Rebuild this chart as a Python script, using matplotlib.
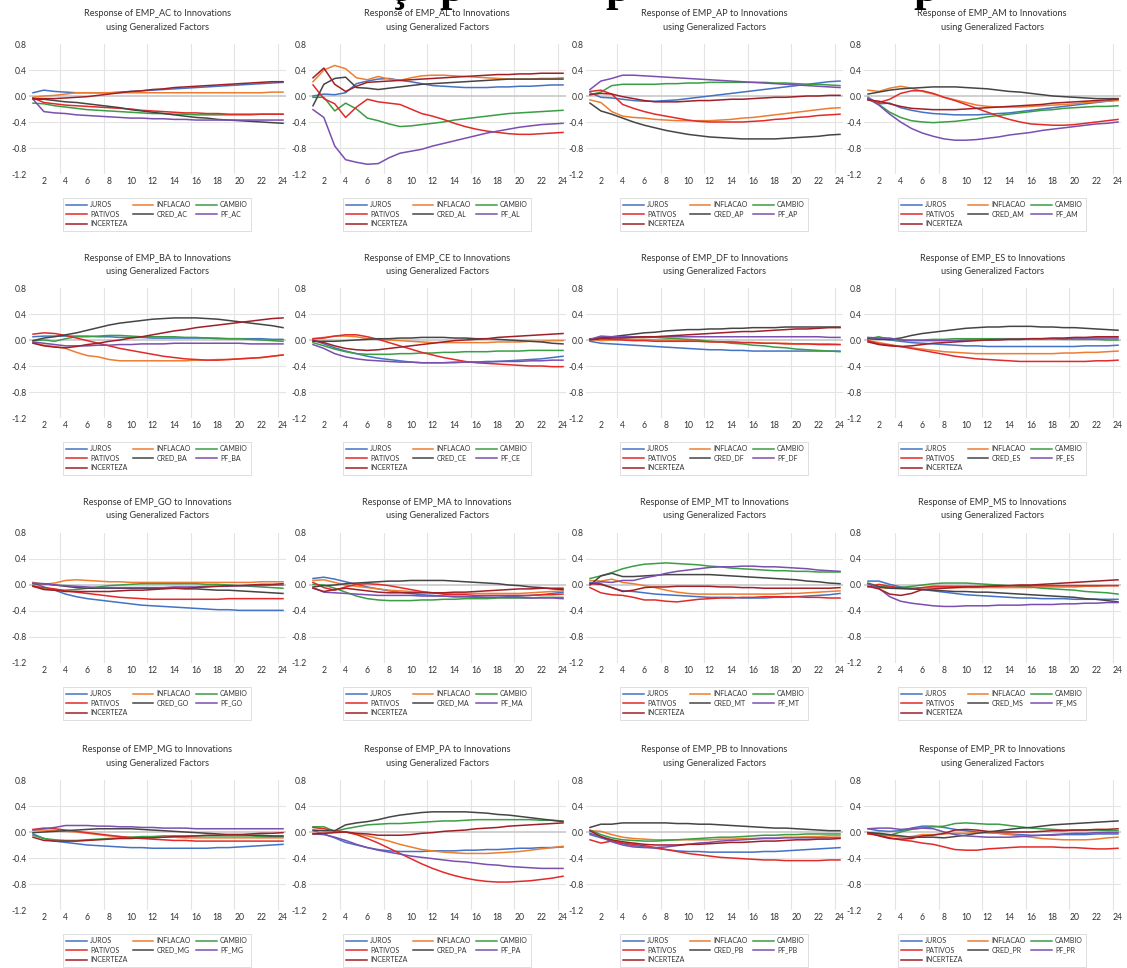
import matplotlib
matplotlib.use("Agg")
import matplotlib.pyplot as plt
from matplotlib.transforms import offset_copy

# ---------------- data ----------------
PERIODS = list(range(1, 25))
STATES = ["AC", "AL", "AP", "AM", "BA", "CE", "DF", "ES",
          "GO", "MA", "MT", "MS", "MG", "PA", "PB", "PR"]
SERIES = ["JUROS", "INFLACAO", "CAMBIO", "PATIVOS", "CRED", "PF", "INCERTEZA"]
Y_TICKS = [0.8, 0.4, 0.0, -0.4, -0.8, -1.2]
X_TICKS = [2, 4, 6, 8, 10, 12, 14, 16, 18, 20, 22, 24]

EMP_AC = {
    "JUROS":     [0.05, 0.09, 0.07, 0.06, 0.05, 0.05, 0.05, 0.05, 0.06, 0.07, 0.08, 0.09, 0.10, 0.11, 0.12, 0.13, 0.14, 0.15, 0.16, 0.17, 0.18, 0.19, 0.20, 0.21],
    "INFLACAO":  [-0.02, 0.00, 0.01, 0.03, 0.05, 0.05, 0.05, 0.05, 0.05, 0.05, 0.05, 0.05, 0.05, 0.05, 0.05, 0.05, 0.05, 0.05, 0.05, 0.05, 0.05, 0.05, 0.06, 0.06],
    "CAMBIO":    [-0.11, -0.12, -0.15, -0.17, -0.19, -0.21, -0.22, -0.23, -0.24, -0.25, -0.26, -0.27, -0.27, -0.28, -0.28, -0.29, -0.29, -0.29, -0.29, -0.29, -0.29, -0.28, -0.28, -0.28],
    "PATIVOS":   [-0.03, -0.10, -0.12, -0.14, -0.15, -0.16, -0.17, -0.18, -0.19, -0.20, -0.22, -0.23, -0.24, -0.25, -0.26, -0.26, -0.27, -0.27, -0.28, -0.28, -0.28, -0.28, -0.28, -0.28],
    "CRED":      [-0.05, -0.05, -0.07, -0.09, -0.10, -0.12, -0.14, -0.16, -0.18, -0.21, -0.23, -0.25, -0.27, -0.29, -0.31, -0.33, -0.34, -0.36, -0.37, -0.38, -0.39, -0.40, -0.41, -0.42],
    "PF":        [-0.05, -0.24, -0.26, -0.27, -0.29, -0.30, -0.31, -0.32, -0.33, -0.34, -0.34, -0.35, -0.35, -0.36, -0.36, -0.37, -0.37, -0.37, -0.37, -0.37, -0.37, -0.37, -0.37, -0.37],
    "INCERTEZA": [-0.04, -0.04, -0.04, -0.03, -0.02, -0.01, 0.01, 0.03, 0.05, 0.07, 0.08, 0.10, 0.11, 0.13, 0.14, 0.15, 0.16, 0.17, 0.18, 0.19, 0.20, 0.21, 0.22, 0.22],
}
EMP_AL = {
    "JUROS":     [0.00, 0.03, 0.02, 0.05, 0.19, 0.23, 0.26, 0.27, 0.24, 0.22, 0.19, 0.16, 0.15, 0.14, 0.13, 0.13, 0.13, 0.14, 0.14, 0.15, 0.15, 0.16, 0.17, 0.17],
    "INFLACAO":  [0.22, 0.40, 0.47, 0.42, 0.28, 0.25, 0.30, 0.26, 0.24, 0.28, 0.31, 0.32, 0.32, 0.31, 0.30, 0.29, 0.28, 0.27, 0.26, 0.26, 0.26, 0.27, 0.27, 0.28],
    "CAMBIO":    [-0.02, -0.02, -0.23, -0.11, -0.20, -0.34, -0.38, -0.43, -0.47, -0.46, -0.44, -0.42, -0.40, -0.37, -0.35, -0.33, -0.31, -0.29, -0.27, -0.26, -0.25, -0.24, -0.23, -0.22],
    "PATIVOS":   [0.17, -0.04, -0.12, -0.33, -0.17, -0.05, -0.09, -0.11, -0.13, -0.20, -0.27, -0.31, -0.36, -0.42, -0.47, -0.51, -0.54, -0.56, -0.58, -0.59, -0.59, -0.58, -0.57, -0.56],
    "CRED":      [-0.15, 0.18, 0.27, 0.29, 0.13, 0.12, 0.10, 0.12, 0.14, 0.16, 0.18, 0.19, 0.20, 0.21, 0.22, 0.23, 0.24, 0.25, 0.26, 0.26, 0.26, 0.26, 0.26, 0.26],
    "PF":        [-0.21, -0.33, -0.77, -0.98, -1.02, -1.05, -1.04, -0.95, -0.88, -0.85, -0.82, -0.77, -0.73, -0.69, -0.65, -0.61, -0.57, -0.54, -0.51, -0.48, -0.46, -0.44, -0.43, -0.42],
    "INCERTEZA": [0.28, 0.43, 0.18, 0.07, 0.15, 0.21, 0.22, 0.23, 0.24, 0.25, 0.26, 0.27, 0.28, 0.29, 0.30, 0.31, 0.32, 0.33, 0.33, 0.34, 0.34, 0.35, 0.35, 0.35],
}
EMP_AP = {
    "JUROS":     [0.05, -0.02, -0.03, -0.05, -0.07, -0.08, -0.08, -0.07, -0.06, -0.04, -0.02, 0.00, 0.02, 0.04, 0.06, 0.08, 0.10, 0.12, 0.14, 0.16, 0.18, 0.20, 0.22, 0.23],
    "INFLACAO":  [-0.06, -0.10, -0.24, -0.31, -0.33, -0.34, -0.36, -0.37, -0.38, -0.38, -0.38, -0.38, -0.37, -0.36, -0.34, -0.33, -0.31, -0.29, -0.27, -0.25, -0.23, -0.21, -0.19, -0.18],
    "CAMBIO":    [0.02, 0.06, 0.16, 0.18, 0.18, 0.18, 0.18, 0.19, 0.19, 0.20, 0.20, 0.21, 0.21, 0.21, 0.21, 0.21, 0.21, 0.20, 0.20, 0.19, 0.18, 0.18, 0.17, 0.16],
    "PATIVOS":   [0.07, 0.09, 0.03, -0.13, -0.19, -0.24, -0.28, -0.31, -0.34, -0.37, -0.39, -0.40, -0.40, -0.40, -0.40, -0.39, -0.38, -0.36, -0.35, -0.33, -0.32, -0.30, -0.29, -0.28],
    "CRED":      [-0.11, -0.23, -0.28, -0.34, -0.40, -0.45, -0.49, -0.53, -0.56, -0.59, -0.61, -0.63, -0.64, -0.65, -0.66, -0.66, -0.66, -0.66, -0.65, -0.64, -0.63, -0.62, -0.60, -0.59],
    "PF":        [0.10, 0.23, 0.27, 0.32, 0.32, 0.31, 0.30, 0.29, 0.28, 0.27, 0.26, 0.25, 0.24, 0.23, 0.22, 0.21, 0.20, 0.19, 0.18, 0.17, 0.16, 0.15, 0.14, 0.13],
    "INCERTEZA": [0.02, 0.04, 0.03, -0.01, -0.04, -0.07, -0.09, -0.09, -0.09, -0.08, -0.07, -0.07, -0.06, -0.05, -0.05, -0.04, -0.03, -0.02, -0.02, -0.01, 0.00, 0.00, 0.01, 0.01],
}
EMP_AM = {
    "JUROS":     [-0.02, -0.12, -0.11, -0.18, -0.22, -0.25, -0.27, -0.28, -0.29, -0.29, -0.29, -0.28, -0.27, -0.26, -0.24, -0.22, -0.20, -0.18, -0.16, -0.14, -0.12, -0.10, -0.08, -0.06],
    "INFLACAO":  [0.09, 0.07, 0.12, 0.15, 0.12, 0.07, 0.03, -0.02, -0.06, -0.10, -0.14, -0.16, -0.17, -0.17, -0.17, -0.16, -0.15, -0.14, -0.13, -0.12, -0.10, -0.09, -0.08, -0.07],
    "CAMBIO":    [-0.04, -0.13, -0.25, -0.33, -0.38, -0.40, -0.41, -0.40, -0.39, -0.37, -0.35, -0.32, -0.30, -0.28, -0.26, -0.24, -0.22, -0.21, -0.19, -0.18, -0.17, -0.16, -0.16, -0.15],
    "PATIVOS":   [-0.06, -0.10, -0.05, 0.04, 0.08, 0.08, 0.04, -0.02, -0.07, -0.13, -0.19, -0.25, -0.31, -0.36, -0.40, -0.43, -0.44, -0.45, -0.45, -0.44, -0.42, -0.40, -0.38, -0.36],
    "CRED":      [0.03, 0.06, 0.09, 0.11, 0.12, 0.13, 0.14, 0.14, 0.14, 0.13, 0.12, 0.11, 0.09, 0.07, 0.06, 0.04, 0.02, 0.00, -0.01, -0.02, -0.03, -0.04, -0.04, -0.04],
    "PF":        [-0.04, -0.14, -0.28, -0.40, -0.50, -0.57, -0.62, -0.66, -0.68, -0.68, -0.67, -0.65, -0.63, -0.60, -0.58, -0.56, -0.53, -0.51, -0.49, -0.47, -0.45, -0.43, -0.42, -0.40],
    "INCERTEZA": [-0.06, -0.08, -0.12, -0.16, -0.19, -0.20, -0.21, -0.21, -0.21, -0.20, -0.19, -0.18, -0.17, -0.16, -0.15, -0.14, -0.13, -0.11, -0.10, -0.09, -0.08, -0.07, -0.06, -0.05],
}
EMP_BA = {
    "JUROS":     [0.05, 0.06, 0.06, 0.06, 0.06, 0.06, 0.05, 0.05, 0.04, 0.04, 0.04, 0.03, 0.03, 0.03, 0.03, 0.03, 0.03, 0.02, 0.02, 0.02, 0.02, 0.02, 0.01, 0.01],
    "INFLACAO":  [-0.04, -0.08, -0.10, -0.13, -0.19, -0.24, -0.26, -0.30, -0.32, -0.32, -0.32, -0.32, -0.32, -0.32, -0.32, -0.31, -0.31, -0.30, -0.30, -0.29, -0.28, -0.27, -0.25, -0.23],
    "CAMBIO":    [-0.01, 0.00, -0.02, 0.02, 0.05, 0.05, 0.06, 0.07, 0.07, 0.06, 0.05, 0.05, 0.05, 0.05, 0.04, 0.04, 0.03, 0.03, 0.02, 0.02, 0.01, 0.00, -0.01, -0.02],
    "PATIVOS":   [0.09, 0.11, 0.10, 0.07, 0.03, -0.01, -0.05, -0.09, -0.13, -0.16, -0.19, -0.22, -0.25, -0.27, -0.29, -0.30, -0.31, -0.31, -0.30, -0.29, -0.28, -0.27, -0.25, -0.23],
    "CRED":      [-0.01, 0.03, 0.05, 0.08, 0.11, 0.15, 0.19, 0.23, 0.26, 0.28, 0.30, 0.32, 0.33, 0.34, 0.34, 0.34, 0.33, 0.32, 0.30, 0.28, 0.26, 0.24, 0.22, 0.19],
    "PF":        [-0.03, -0.05, -0.07, -0.09, -0.09, -0.09, -0.08, -0.08, -0.07, -0.07, -0.06, -0.06, -0.06, -0.05, -0.05, -0.05, -0.05, -0.05, -0.05, -0.05, -0.06, -0.06, -0.06, -0.06],
    "INCERTEZA": [-0.05, -0.09, -0.11, -0.12, -0.10, -0.07, -0.05, -0.02, 0.00, 0.03, 0.05, 0.08, 0.11, 0.14, 0.16, 0.19, 0.21, 0.23, 0.25, 0.27, 0.29, 0.31, 0.33, 0.34],
}
EMP_CE = {
    "JUROS":     [0.00, -0.06, -0.12, -0.17, -0.21, -0.25, -0.28, -0.30, -0.32, -0.34, -0.35, -0.35, -0.35, -0.35, -0.34, -0.34, -0.33, -0.33, -0.32, -0.31, -0.30, -0.29, -0.27, -0.25],
    "INFLACAO":  [0.02, 0.04, 0.06, 0.06, 0.05, 0.02, 0.01, 0.00, -0.01, -0.02, -0.03, -0.04, -0.04, -0.04, -0.04, -0.04, -0.04, -0.03, -0.03, -0.03, -0.02, -0.02, -0.01, -0.01],
    "CAMBIO":    [-0.04, -0.09, -0.14, -0.18, -0.21, -0.22, -0.22, -0.22, -0.21, -0.21, -0.20, -0.20, -0.19, -0.19, -0.18, -0.18, -0.18, -0.17, -0.17, -0.17, -0.16, -0.16, -0.16, -0.16],
    "PATIVOS":   [0.02, 0.03, 0.06, 0.08, 0.08, 0.05, 0.01, -0.04, -0.09, -0.14, -0.19, -0.23, -0.27, -0.30, -0.33, -0.35, -0.36, -0.37, -0.38, -0.39, -0.40, -0.40, -0.41, -0.41],
    "CRED":      [-0.02, -0.02, -0.02, -0.01, 0.00, 0.01, 0.02, 0.02, 0.03, 0.03, 0.04, 0.04, 0.04, 0.03, 0.03, 0.02, 0.02, 0.01, 0.00, -0.01, -0.02, -0.03, -0.05, -0.06],
    "PF":        [-0.07, -0.13, -0.21, -0.26, -0.29, -0.31, -0.32, -0.33, -0.34, -0.34, -0.35, -0.35, -0.35, -0.34, -0.34, -0.34, -0.34, -0.33, -0.33, -0.33, -0.32, -0.32, -0.31, -0.31],
    "INCERTEZA": [-0.01, -0.04, -0.09, -0.13, -0.15, -0.16, -0.15, -0.13, -0.11, -0.09, -0.07, -0.05, -0.03, -0.01, 0.00, 0.01, 0.02, 0.04, 0.05, 0.06, 0.07, 0.08, 0.09, 0.10],
}
EMP_DF = {
    "JUROS":     [-0.02, -0.05, -0.06, -0.07, -0.08, -0.09, -0.10, -0.11, -0.12, -0.13, -0.14, -0.15, -0.15, -0.16, -0.16, -0.17, -0.17, -0.17, -0.17, -0.17, -0.17, -0.17, -0.17, -0.17],
    "INFLACAO":  [0.01, -0.01, 0.00, 0.01, 0.01, 0.01, 0.00, 0.00, -0.01, -0.01, -0.02, -0.02, -0.03, -0.03, -0.04, -0.04, -0.05, -0.05, -0.05, -0.06, -0.06, -0.06, -0.06, -0.07],
    "CAMBIO":    [0.01, 0.04, 0.04, 0.04, 0.04, 0.04, 0.04, 0.03, 0.02, 0.01, 0.00, -0.02, -0.03, -0.05, -0.06, -0.08, -0.09, -0.11, -0.12, -0.14, -0.15, -0.16, -0.17, -0.18],
    "PATIVOS":   [0.02, 0.02, 0.01, 0.00, -0.01, -0.01, -0.02, -0.02, -0.02, -0.02, -0.02, -0.03, -0.03, -0.03, -0.04, -0.04, -0.05, -0.05, -0.06, -0.06, -0.06, -0.07, -0.07, -0.07],
    "CRED":      [0.01, 0.03, 0.05, 0.07, 0.09, 0.11, 0.12, 0.14, 0.15, 0.16, 0.16, 0.17, 0.17, 0.18, 0.18, 0.19, 0.19, 0.19, 0.20, 0.20, 0.20, 0.20, 0.20, 0.20],
    "PF":        [0.01, 0.06, 0.05, 0.05, 0.05, 0.05, 0.05, 0.05, 0.05, 0.05, 0.05, 0.05, 0.05, 0.05, 0.05, 0.05, 0.05, 0.05, 0.05, 0.05, 0.05, 0.05, 0.04, 0.04],
    "INCERTEZA": [0.00, 0.02, 0.03, 0.03, 0.04, 0.05, 0.05, 0.06, 0.07, 0.08, 0.09, 0.10, 0.11, 0.12, 0.13, 0.13, 0.14, 0.15, 0.16, 0.17, 0.17, 0.18, 0.19, 0.19],
}
EMP_ES = {
    "JUROS":     [0.03, 0.02, 0.00, -0.02, -0.04, -0.05, -0.06, -0.07, -0.08, -0.09, -0.09, -0.10, -0.10, -0.10, -0.10, -0.10, -0.10, -0.10, -0.10, -0.10, -0.09, -0.09, -0.09, -0.08],
    "INFLACAO":  [-0.01, -0.04, -0.07, -0.10, -0.12, -0.14, -0.16, -0.18, -0.19, -0.20, -0.21, -0.21, -0.21, -0.21, -0.21, -0.21, -0.21, -0.21, -0.20, -0.20, -0.19, -0.19, -0.18, -0.17],
    "CAMBIO":    [0.02, 0.05, 0.01, 0.00, 0.00, 0.00, 0.01, 0.01, 0.02, 0.02, 0.02, 0.02, 0.02, 0.02, 0.02, 0.02, 0.02, 0.02, 0.01, 0.01, 0.01, 0.01, 0.00, 0.00],
    "PATIVOS":   [-0.01, -0.06, -0.08, -0.10, -0.13, -0.16, -0.19, -0.22, -0.25, -0.27, -0.29, -0.30, -0.31, -0.32, -0.33, -0.33, -0.33, -0.33, -0.33, -0.33, -0.33, -0.32, -0.32, -0.31],
    "CRED":      [0.02, 0.01, 0.01, 0.03, 0.07, 0.10, 0.12, 0.14, 0.16, 0.18, 0.19, 0.20, 0.20, 0.21, 0.21, 0.21, 0.20, 0.20, 0.19, 0.19, 0.18, 0.17, 0.16, 0.15],
    "PF":        [0.04, 0.03, 0.03, 0.00, -0.01, -0.01, -0.01, -0.01, -0.01, 0.00, 0.00, 0.00, 0.01, 0.01, 0.01, 0.02, 0.02, 0.02, 0.02, 0.03, 0.03, 0.03, 0.03, 0.03],
    "INCERTEZA": [-0.03, -0.07, -0.09, -0.10, -0.09, -0.07, -0.05, -0.04, -0.03, -0.02, -0.01, 0.00, 0.00, 0.01, 0.01, 0.02, 0.02, 0.03, 0.03, 0.04, 0.04, 0.05, 0.05, 0.05],
}
EMP_GO = {
    "JUROS":     [0.03, -0.03, -0.08, -0.14, -0.18, -0.21, -0.23, -0.25, -0.27, -0.29, -0.31, -0.32, -0.33, -0.34, -0.35, -0.36, -0.37, -0.38, -0.38, -0.39, -0.39, -0.39, -0.39, -0.39],
    "INFLACAO":  [0.04, 0.01, 0.03, 0.07, 0.08, 0.07, 0.06, 0.05, 0.05, 0.04, 0.04, 0.04, 0.04, 0.04, 0.04, 0.04, 0.04, 0.04, 0.04, 0.04, 0.04, 0.05, 0.05, 0.05],
    "CAMBIO":    [-0.01, -0.06, -0.08, -0.08, -0.07, -0.05, -0.03, -0.01, 0.00, 0.01, 0.02, 0.02, 0.02, 0.02, 0.02, 0.02, 0.01, 0.01, 0.00, -0.01, -0.02, -0.03, -0.04, -0.05],
    "PATIVOS":   [-0.02, -0.04, -0.06, -0.09, -0.11, -0.13, -0.15, -0.17, -0.19, -0.20, -0.21, -0.22, -0.22, -0.22, -0.22, -0.22, -0.22, -0.22, -0.21, -0.21, -0.21, -0.21, -0.21, -0.21],
    "CRED":      [0.02, 0.02, 0.00, -0.02, -0.04, -0.05, -0.05, -0.05, -0.05, -0.05, -0.05, -0.05, -0.05, -0.05, -0.06, -0.06, -0.07, -0.08, -0.08, -0.09, -0.10, -0.11, -0.12, -0.13],
    "PF":        [0.03, 0.02, 0.00, -0.01, -0.02, -0.03, -0.04, -0.04, -0.04, -0.04, -0.04, -0.04, -0.04, -0.03, -0.03, -0.03, -0.02, -0.02, -0.02, -0.01, -0.01, -0.01, 0.00, 0.00],
    "INCERTEZA": [-0.02, -0.07, -0.08, -0.10, -0.10, -0.10, -0.10, -0.10, -0.09, -0.08, -0.08, -0.07, -0.06, -0.05, -0.05, -0.04, -0.03, -0.02, -0.01, -0.01, 0.00, 0.01, 0.01, 0.02],
}
EMP_MA = {
    "JUROS":     [0.10, 0.12, 0.09, 0.05, 0.01, -0.03, -0.06, -0.09, -0.11, -0.13, -0.15, -0.16, -0.17, -0.18, -0.18, -0.19, -0.19, -0.19, -0.18, -0.17, -0.16, -0.15, -0.13, -0.11],
    "INFLACAO":  [0.07, 0.08, 0.04, 0.00, -0.02, -0.04, -0.06, -0.08, -0.09, -0.10, -0.11, -0.12, -0.13, -0.13, -0.13, -0.13, -0.13, -0.13, -0.13, -0.13, -0.12, -0.11, -0.10, -0.09],
    "CAMBIO":    [0.01, 0.00, -0.05, -0.11, -0.17, -0.21, -0.23, -0.24, -0.24, -0.24, -0.23, -0.23, -0.22, -0.22, -0.21, -0.21, -0.21, -0.20, -0.20, -0.20, -0.20, -0.19, -0.19, -0.19],
    "PATIVOS":   [0.04, -0.04, -0.08, -0.03, 0.01, 0.02, 0.01, -0.01, -0.04, -0.07, -0.10, -0.12, -0.14, -0.15, -0.15, -0.16, -0.16, -0.16, -0.16, -0.16, -0.16, -0.15, -0.15, -0.14],
    "CRED":      [-0.03, -0.01, 0.00, 0.02, 0.03, 0.04, 0.05, 0.06, 0.06, 0.07, 0.07, 0.07, 0.07, 0.06, 0.05, 0.04, 0.03, 0.02, 0.00, -0.01, -0.03, -0.04, -0.06, -0.07],
    "PF":        [-0.04, -0.11, -0.12, -0.13, -0.14, -0.15, -0.16, -0.16, -0.16, -0.16, -0.17, -0.17, -0.17, -0.18, -0.18, -0.18, -0.19, -0.19, -0.19, -0.19, -0.20, -0.20, -0.20, -0.21],
    "INCERTEZA": [-0.05, -0.10, -0.07, -0.05, -0.07, -0.09, -0.11, -0.12, -0.12, -0.12, -0.12, -0.12, -0.12, -0.11, -0.11, -0.10, -0.09, -0.08, -0.07, -0.06, -0.06, -0.05, -0.05, -0.05],
}
EMP_MT = {
    "JUROS":     [0.04, 0.02, -0.04, -0.09, -0.10, -0.12, -0.14, -0.15, -0.16, -0.17, -0.18, -0.19, -0.19, -0.19, -0.20, -0.20, -0.20, -0.19, -0.19, -0.18, -0.17, -0.16, -0.15, -0.13],
    "INFLACAO":  [0.07, 0.06, 0.09, 0.04, 0.02, -0.01, -0.04, -0.08, -0.11, -0.13, -0.14, -0.14, -0.14, -0.14, -0.14, -0.14, -0.14, -0.14, -0.13, -0.13, -0.12, -0.11, -0.10, -0.09],
    "CAMBIO":    [0.10, 0.14, 0.19, 0.25, 0.29, 0.32, 0.33, 0.34, 0.33, 0.32, 0.31, 0.29, 0.28, 0.26, 0.25, 0.24, 0.23, 0.22, 0.22, 0.21, 0.21, 0.20, 0.20, 0.20],
    "PATIVOS":   [-0.04, -0.12, -0.15, -0.16, -0.19, -0.23, -0.23, -0.25, -0.26, -0.24, -0.22, -0.21, -0.20, -0.20, -0.19, -0.19, -0.18, -0.18, -0.18, -0.18, -0.19, -0.19, -0.20, -0.20],
    "CRED":      [0.00, 0.14, 0.18, 0.13, 0.13, 0.14, 0.15, 0.16, 0.16, 0.16, 0.16, 0.16, 0.15, 0.14, 0.13, 0.12, 0.11, 0.10, 0.09, 0.08, 0.06, 0.05, 0.03, 0.02],
    "PF":        [0.02, 0.05, 0.04, 0.07, 0.07, 0.11, 0.14, 0.18, 0.21, 0.23, 0.25, 0.27, 0.28, 0.28, 0.29, 0.29, 0.28, 0.28, 0.27, 0.26, 0.25, 0.23, 0.22, 0.21],
    "INCERTEZA": [0.02, 0.01, -0.04, -0.10, -0.08, -0.04, -0.03, -0.03, -0.02, -0.02, -0.02, -0.02, -0.03, -0.03, -0.04, -0.04, -0.05, -0.05, -0.05, -0.05, -0.05, -0.05, -0.05, -0.04],
}
EMP_MS = {
    "JUROS":     [0.06, 0.06, 0.01, -0.03, -0.05, -0.07, -0.09, -0.11, -0.13, -0.15, -0.16, -0.17, -0.18, -0.19, -0.20, -0.20, -0.21, -0.21, -0.21, -0.22, -0.22, -0.22, -0.22, -0.22],
    "INFLACAO":  [-0.02, -0.04, -0.05, -0.06, -0.05, -0.04, -0.04, -0.04, -0.04, -0.04, -0.04, -0.04, -0.04, -0.04, -0.04, -0.04, -0.03, -0.03, -0.03, -0.03, -0.02, -0.02, -0.01, -0.01],
    "CAMBIO":    [0.03, -0.02, -0.03, -0.04, -0.02, 0.00, 0.02, 0.03, 0.03, 0.03, 0.02, 0.01, 0.00, -0.01, -0.02, -0.03, -0.05, -0.06, -0.07, -0.08, -0.10, -0.11, -0.12, -0.14],
    "PATIVOS":   [-0.03, 0.01, -0.02, -0.05, -0.06, -0.04, -0.02, -0.02, -0.02, -0.02, -0.02, -0.02, -0.02, -0.01, -0.01, -0.01, -0.01, -0.01, -0.01, -0.01, -0.01, -0.01, -0.01, -0.01],
    "CRED":      [0.02, -0.03, -0.05, -0.05, -0.06, -0.07, -0.08, -0.09, -0.10, -0.10, -0.11, -0.11, -0.12, -0.13, -0.14, -0.15, -0.16, -0.17, -0.18, -0.19, -0.21, -0.22, -0.24, -0.26],
    "PF":        [0.02, -0.05, -0.18, -0.25, -0.28, -0.30, -0.32, -0.33, -0.33, -0.32, -0.32, -0.32, -0.31, -0.31, -0.31, -0.30, -0.30, -0.30, -0.29, -0.29, -0.28, -0.28, -0.27, -0.27],
    "INCERTEZA": [-0.02, -0.06, -0.14, -0.16, -0.13, -0.07, -0.06, -0.05, -0.04, -0.03, -0.03, -0.02, -0.01, -0.01, 0.00, 0.00, 0.01, 0.02, 0.03, 0.04, 0.05, 0.06, 0.07, 0.08],
}
EMP_MG = {
    "JUROS":     [-0.03, -0.10, -0.14, -0.16, -0.18, -0.20, -0.21, -0.22, -0.23, -0.24, -0.24, -0.25, -0.25, -0.25, -0.25, -0.25, -0.25, -0.24, -0.24, -0.23, -0.22, -0.21, -0.20, -0.19],
    "INFLACAO":  [0.03, 0.03, 0.02, 0.01, 0.00, -0.02, -0.04, -0.06, -0.07, -0.08, -0.08, -0.08, -0.08, -0.08, -0.09, -0.09, -0.09, -0.09, -0.09, -0.09, -0.09, -0.09, -0.09, -0.09],
    "CAMBIO":    [-0.05, -0.10, -0.12, -0.13, -0.13, -0.12, -0.11, -0.10, -0.09, -0.08, -0.07, -0.07, -0.06, -0.06, -0.06, -0.06, -0.06, -0.06, -0.06, -0.06, -0.06, -0.07, -0.07, -0.07],
    "PATIVOS":   [0.04, 0.06, 0.05, 0.03, 0.01, -0.01, -0.03, -0.05, -0.07, -0.09, -0.10, -0.11, -0.12, -0.13, -0.13, -0.14, -0.14, -0.14, -0.14, -0.14, -0.14, -0.14, -0.14, -0.14],
    "CRED":      [-0.01, 0.00, 0.01, 0.02, 0.03, 0.04, 0.05, 0.05, 0.05, 0.05, 0.04, 0.03, 0.02, 0.01, 0.00, -0.01, -0.02, -0.03, -0.04, -0.04, -0.05, -0.05, -0.06, -0.06],
    "PF":        [0.03, 0.05, 0.07, 0.10, 0.10, 0.10, 0.09, 0.09, 0.08, 0.08, 0.07, 0.07, 0.06, 0.06, 0.06, 0.05, 0.05, 0.05, 0.05, 0.05, 0.05, 0.05, 0.05, 0.05],
    "INCERTEZA": [-0.08, -0.13, -0.14, -0.14, -0.14, -0.13, -0.12, -0.11, -0.10, -0.10, -0.09, -0.09, -0.08, -0.07, -0.07, -0.06, -0.05, -0.05, -0.04, -0.04, -0.03, -0.02, -0.02, -0.01],
}
EMP_PA = {
    "JUROS":     [0.02, -0.03, -0.09, -0.16, -0.20, -0.24, -0.27, -0.29, -0.30, -0.30, -0.30, -0.29, -0.29, -0.29, -0.28, -0.28, -0.27, -0.27, -0.26, -0.25, -0.25, -0.24, -0.24, -0.23],
    "INFLACAO":  [-0.02, -0.02, 0.00, 0.00, -0.03, -0.06, -0.10, -0.14, -0.19, -0.23, -0.27, -0.29, -0.31, -0.32, -0.33, -0.33, -0.33, -0.32, -0.31, -0.30, -0.28, -0.26, -0.24, -0.22],
    "CAMBIO":    [0.08, 0.08, 0.01, 0.05, 0.08, 0.11, 0.12, 0.13, 0.13, 0.14, 0.15, 0.16, 0.17, 0.17, 0.18, 0.19, 0.19, 0.19, 0.19, 0.19, 0.19, 0.18, 0.18, 0.17],
    "PATIVOS":   [0.07, 0.05, 0.02, 0.00, -0.04, -0.10, -0.17, -0.25, -0.33, -0.41, -0.49, -0.56, -0.62, -0.67, -0.71, -0.74, -0.76, -0.77, -0.77, -0.76, -0.75, -0.73, -0.71, -0.68],
    "CRED":      [0.03, 0.02, 0.02, 0.11, 0.14, 0.16, 0.19, 0.23, 0.26, 0.28, 0.30, 0.31, 0.31, 0.31, 0.31, 0.30, 0.29, 0.27, 0.26, 0.24, 0.22, 0.20, 0.18, 0.16],
    "PF":        [-0.03, -0.04, -0.08, -0.13, -0.19, -0.24, -0.28, -0.31, -0.34, -0.37, -0.39, -0.41, -0.43, -0.45, -0.46, -0.48, -0.50, -0.51, -0.53, -0.54, -0.55, -0.56, -0.56, -0.56],
    "INCERTEZA": [-0.03, -0.02, -0.01, 0.00, -0.02, -0.03, -0.05, -0.05, -0.05, -0.04, -0.02, -0.01, 0.01, 0.02, 0.03, 0.05, 0.06, 0.07, 0.09, 0.10, 0.11, 0.12, 0.13, 0.14],
}
EMP_PB = {
    "JUROS":     [-0.04, -0.09, -0.14, -0.18, -0.21, -0.23, -0.25, -0.27, -0.29, -0.30, -0.30, -0.31, -0.31, -0.31, -0.31, -0.31, -0.30, -0.30, -0.29, -0.28, -0.27, -0.26, -0.25, -0.24],
    "INFLACAO":  [0.02, 0.01, -0.04, -0.08, -0.10, -0.11, -0.12, -0.12, -0.12, -0.12, -0.12, -0.12, -0.11, -0.11, -0.10, -0.10, -0.09, -0.09, -0.08, -0.08, -0.07, -0.07, -0.06, -0.06],
    "CAMBIO":    [0.03, -0.04, -0.09, -0.12, -0.13, -0.14, -0.14, -0.13, -0.12, -0.11, -0.10, -0.09, -0.08, -0.08, -0.07, -0.06, -0.05, -0.05, -0.04, -0.04, -0.03, -0.03, -0.03, -0.03],
    "PATIVOS":   [-0.12, -0.17, -0.14, -0.17, -0.19, -0.21, -0.24, -0.27, -0.30, -0.33, -0.35, -0.37, -0.39, -0.40, -0.41, -0.42, -0.43, -0.43, -0.44, -0.44, -0.44, -0.44, -0.43, -0.43],
    "CRED":      [0.07, 0.12, 0.12, 0.14, 0.14, 0.14, 0.14, 0.14, 0.13, 0.13, 0.12, 0.12, 0.11, 0.10, 0.09, 0.08, 0.07, 0.06, 0.06, 0.05, 0.04, 0.03, 0.02, 0.02],
    "PF":        [-0.02, -0.07, -0.15, -0.20, -0.23, -0.24, -0.24, -0.23, -0.21, -0.19, -0.17, -0.16, -0.14, -0.13, -0.12, -0.11, -0.10, -0.10, -0.09, -0.09, -0.09, -0.09, -0.09, -0.09],
    "INCERTEZA": [0.02, -0.07, -0.12, -0.15, -0.17, -0.19, -0.20, -0.20, -0.20, -0.19, -0.19, -0.18, -0.17, -0.16, -0.16, -0.15, -0.14, -0.14, -0.13, -0.12, -0.12, -0.11, -0.11, -0.10],
}
EMP_PR = {
    "JUROS":     [0.05, 0.02, 0.01, 0.02, 0.06, 0.09, 0.09, 0.07, 0.04, 0.02, 0.00, -0.01, -0.02, -0.03, -0.04, -0.05, -0.05, -0.05, -0.04, -0.04, -0.04, -0.03, -0.03, -0.03],
    "INFLACAO":  [-0.03, -0.04, -0.06, -0.08, -0.07, -0.04, -0.04, -0.03, -0.02, -0.02, -0.01, -0.01, -0.02, -0.04, -0.06, -0.08, -0.10, -0.11, -0.12, -0.12, -0.12, -0.11, -0.09, -0.08],
    "CAMBIO":    [-0.01, -0.03, -0.05, 0.00, 0.04, 0.06, 0.08, 0.09, 0.13, 0.14, 0.13, 0.12, 0.12, 0.10, 0.08, 0.06, 0.05, 0.04, 0.03, 0.03, 0.03, 0.03, 0.02, 0.02],
    "PATIVOS":   [-0.03, -0.05, -0.09, -0.12, -0.14, -0.17, -0.19, -0.23, -0.27, -0.28, -0.28, -0.26, -0.25, -0.24, -0.23, -0.23, -0.23, -0.23, -0.24, -0.24, -0.25, -0.26, -0.26, -0.25],
    "CRED":      [-0.01, -0.02, -0.04, -0.06, -0.08, -0.08, -0.08, -0.09, -0.07, -0.05, -0.02, 0.00, 0.02, 0.04, 0.06, 0.07, 0.09, 0.11, 0.12, 0.13, 0.14, 0.15, 0.16, 0.17],
    "PF":        [0.05, 0.06, 0.06, 0.04, 0.05, 0.06, 0.05, 0.00, -0.04, -0.06, -0.07, -0.08, -0.08, -0.08, -0.07, -0.06, -0.05, -0.04, -0.03, -0.02, -0.02, -0.01, -0.01, -0.01],
    "INCERTEZA": [-0.01, -0.06, -0.10, -0.11, -0.10, -0.06, -0.05, -0.02, 0.03, 0.04, 0.03, 0.01, 0.00, 0.00, 0.00, 0.00, 0.01, 0.02, 0.02, 0.03, 0.03, 0.04, 0.04, 0.05],
}

PANELS = {"AC": EMP_AC, "AL": EMP_AL, "AP": EMP_AP, "AM": EMP_AM,
          "BA": EMP_BA, "CE": EMP_CE, "DF": EMP_DF, "ES": EMP_ES,
          "GO": EMP_GO, "MA": EMP_MA, "MT": EMP_MT, "MS": EMP_MS,
          "MG": EMP_MG, "PA": EMP_PA, "PB": EMP_PB, "PR": EMP_PR}

# ---------------- styling ----------------
COLORS = {"JUROS": "#4472C4", "INFLACAO": "#ED7D31", "CAMBIO": "#3A9E44",
          "PATIVOS": "#E32A2A", "CRED": "#454545", "PF": "#7A4FB0",
          "INCERTEZA": "#A11F27"}
TEXT = "#333333"

plt.rcParams["font.family"] = ["Lato", "DejaVu Sans"]

W, H = 1127, 968
fig = plt.figure(figsize=(W / 100, H / 100), dpi=100)
fig.patch.set_facecolor("white")

COL_P1 = [33, 313, 590, 868]     # pixel x of period 1 per column
ROW_TOP = [44, 288, 533, 780]    # pixel y of the 0.8 line per row
UNIT = 10.87
XLO, XHI = 0.6, 24.25
PH = 130

legend_order = ["JUROS", "PATIVOS", "INCERTEZA", "INFLACAO", "CRED", "CAMBIO", "PF"]

for i, st in enumerate(STATES):
    r, c = divmod(i, 4)
    left = COL_P1[c] - (1 - XLO) * UNIT
    width = (XHI - XLO) * UNIT
    top = ROW_TOP[r]
    ax = fig.add_axes([left / W, 1 - (top + PH) / H, width / W, PH / H])
    data = PANELS[st]

    ax.set_xlim(XLO, XHI)
    ax.set_ylim(-1.2, 0.8)
    for s in ax.spines.values():
        s.set_visible(False)
    for v in [0.4, -0.4, -0.8]:
        ax.axhline(v, color="#e4e4e4", lw=0.8, zorder=0)
    for xv in [3.5, 7.5, 11.5, 15.5, 19.5, 23.5]:
        ax.axvline(xv, color="#e4e4e4", lw=0.8, zorder=0)
    ax.axhline(0.0, color="#c4c4c4", lw=1.1, zorder=1)

    handles = {}
    for s in SERIES:
        label = f"{s}_{st}" if s in ("CRED", "PF") else s
        ln, = ax.plot(PERIODS, data[s], color=COLORS[s], lw=1.1, label=label, zorder=2)
        handles[s] = ln

    ax.set_yticks(Y_TICKS)
    ax.set_yticklabels([f"{v:.1f}" for v in Y_TICKS])
    ax.set_xticks(X_TICKS)
    ax.set_xticklabels([str(v) for v in X_TICKS])
    ax.tick_params(axis="both", length=0, labelsize=6.2, colors=TEXT)
    ax.tick_params(axis="y", pad=1.5)
    ax.tick_params(axis="x", pad=2.5)

    tr1 = offset_copy(ax.transAxes, fig=fig, y=30, units="dots")
    tr2 = offset_copy(ax.transAxes, fig=fig, y=17, units="dots")
    ax.text(0.5, 1.0, f"Response of EMP_{st} to Innovations", transform=tr1,
            ha="center", va="center", fontsize=6.6, color=TEXT)
    ax.text(0.5, 1.0, "using Generalized Factors", transform=tr2,
            ha="center", va="center", fontsize=6.6, color=TEXT)

    leg = ax.legend([handles[k] for k in legend_order],
                    [handles[k].get_label() for k in legend_order],
                    loc="upper center", bbox_to_anchor=(0.5, -0.155), ncol=3,
                    fontsize=5.0, frameon=True, fancybox=False,
                    handlelength=2.9, handletextpad=0.5, columnspacing=0.8,
                    labelspacing=0.38, borderpad=0.5)
    leg.get_frame().set_edgecolor("#d0d0d0")
    leg.get_frame().set_linewidth(0.6)
    for t in leg.get_texts():
        t.set_color(TEXT)

# clipped heading from the source page (only the descenders remain visible)
for ch, xp in [("ç", 398), ("p", 452), ("p", 618), ("p", 926)]:
    fig.text(xp / W, 1 - 1.5 / H, ch, ha="center", va="baseline",
             fontsize=32, fontweight="bold", family=["Liberation Serif", "DejaVu Serif"],
             color="black")

fig.savefig("out.png", dpi=100, facecolor="white")
